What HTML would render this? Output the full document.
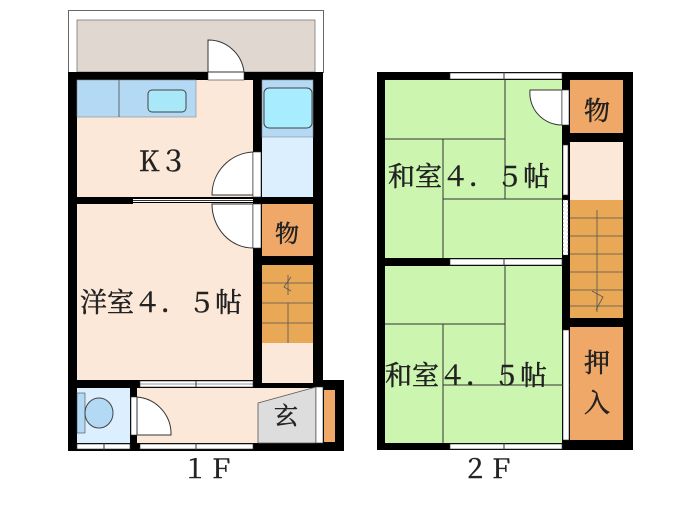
<!DOCTYPE html><html><head><meta charset="utf-8"><style>html,body{margin:0;padding:0;background:#fff}svg{display:block}text{font-family:"Noto Serif CJK SC","Noto Sans CJK JP",serif;fill:#222;stroke:#222;stroke-width:0.5}</style></head><body>
<svg width="700" height="525" viewBox="0 0 700 525" xmlns="http://www.w3.org/2000/svg">
<rect x="68.5" y="10.5" width="255" height="62" fill="#fff" stroke="#666"/>
<rect x="77" y="20" width="238" height="52" fill="#e0d8d0" stroke="#777" stroke-width="0.8"/>
<rect x="68" y="72" width="255" height="379" fill="#000"/>
<rect x="77" y="80" width="176" height="117" fill="#fce8d8"/>
<rect x="77" y="203" width="176" height="177" fill="#fce8d8"/>
<rect x="77" y="80" width="119" height="37" fill="#b3d9f5" stroke="#888" stroke-width="0.6"/>
<line x1="119" y1="80" x2="119" y2="117" stroke="#666"/>
<rect x="148" y="90" width="38" height="22" rx="4" fill="#a8e8f8" stroke="#444"/>
<rect x="262" y="80" width="51" height="117" fill="#dcefff"/>
<rect x="262" y="80" width="51" height="57" fill="#b3d9f5" stroke="#888" stroke-width="0.6"/>
<rect x="264" y="88" width="48" height="40" rx="5" fill="#a8ecff" stroke="#444"/>
<rect x="77" y="197" width="56" height="7" fill="#000"/>
<rect x="133" y="199" width="120" height="3" fill="#fff"/><line x1="133" y1="200.5" x2="253" y2="200.5" stroke="#333"/>
<path d="M253 152 A43 43 0 0 0 212 195 L253 195 Z" fill="#fff" stroke="#333"/>
<path d="M212 204 A41 44 0 0 0 253 248 L253 204 Z" fill="#fff" stroke="#333"/>
<rect x="253" y="152" width="8" height="45" fill="#fff" stroke="#333" stroke-width="0.6"/>
<rect x="253" y="204" width="8" height="44" fill="#fff" stroke="#333" stroke-width="0.6"/>
<rect x="262" y="204" width="51" height="52" fill="#f0a868"/>
<rect x="262" y="265" width="51" height="78" fill="#e8a855"/>
<g stroke="#555" stroke-width="0.8"><line x1="262" y1="283" x2="313" y2="283"/><line x1="262" y1="303" x2="313" y2="303"/><line x1="262" y1="323" x2="313" y2="323"/><line x1="288" y1="303" x2="288" y2="343"/><line x1="288" y1="275" x2="288" y2="295"/><polyline points="291,277 284,287 291,291" fill="none"/></g>
<rect x="262" y="343" width="51" height="40" fill="#fce8d8"/>
<rect x="253" y="388" width="70" height="55" fill="#fce8d8"/>
<rect x="140" y="381" width="113" height="6" fill="#fff" stroke="#333" stroke-width="0.6"/>
<line x1="140" y1="384" x2="253" y2="384" stroke="#333" stroke-width="0.6"/><line x1="196" y1="381" x2="196" y2="387" stroke="#333"/>
<rect x="137" y="388" width="176" height="55" fill="#fce8d8"/>
<rect x="77" y="388" width="53" height="55" fill="#dcefff"/>
<rect x="77" y="393" width="8" height="40" fill="#b3d9f5" stroke="#444" stroke-width="0.6"/>
<ellipse cx="99" cy="413" rx="14" ry="15" fill="#b3d9f5" stroke="#444"/>
<rect x="130" y="388" width="7" height="55" fill="#000"/>
<rect x="131" y="397" width="6" height="38" fill="#fff" stroke="#333" stroke-width="0.6"/>
<path d="M137 397 A37 37 0 0 1 171 435 L137 435 Z" fill="#fff" stroke="#333"/>
<rect x="313" y="380" width="31" height="71" fill="#000"/>
<polygon points="258,403 316,387 316,443 258,443" fill="#ddd" stroke="#555" stroke-width="0.8"/>
<rect x="316" y="387" width="7" height="56" fill="#fff" stroke="#333" stroke-width="0.6"/>
<rect x="324" y="390" width="11" height="52" fill="#f0a868"/>
<rect x="77" y="444" width="53" height="5" fill="#fff" stroke="#333" stroke-width="0.6"/>
<rect x="140" y="444" width="113" height="5" fill="#fff" stroke="#333" stroke-width="0.6"/>
<line x1="196" y1="443" x2="196" y2="450" stroke="#333"/><line x1="104" y1="443" x2="104" y2="450" stroke="#333"/>
<rect x="208" y="72" width="36" height="8" fill="#fff" stroke="#333" stroke-width="0.6"/>
<path d="M208 40 A36 36 0 0 1 244 72 L208 72 Z" fill="#fff" stroke="#333"/>
<text x="163" y="171" font-size="28" text-anchor="middle">K３</text>
<text x="287" y="242" font-size="24" text-anchor="middle">物</text>
<text x="161" y="312" font-size="27" text-anchor="middle">洋室４．５帖</text>
<text x="286" y="424" font-size="24" text-anchor="middle">玄</text>
<text x="208" y="478" font-size="26" text-anchor="middle">１Ｆ</text>

<rect x="377" y="72" width="256" height="378" fill="#000"/>
<rect x="385" y="80" width="177" height="178" fill="#ccf5b0"/>
<rect x="385" y="266" width="177" height="177" fill="#ccf5b0"/>
<g stroke="#333" stroke-width="1" fill="none">
<line x1="385" y1="139" x2="505" y2="139"/><line x1="505" y1="80" x2="505" y2="199"/><line x1="443" y1="139" x2="443" y2="258"/><line x1="443" y1="199" x2="562" y2="199"/>
<line x1="385" y1="324" x2="505" y2="324"/><line x1="505" y1="266" x2="505" y2="385"/><line x1="443" y1="324" x2="443" y2="443"/><line x1="443" y1="385" x2="570" y2="385"/>
</g>
<rect x="450" y="73" width="112" height="6" fill="#fff" stroke="#333" stroke-width="0.6"/>
<rect x="450" y="259" width="112" height="6" fill="#fff" stroke="#333" stroke-width="0.6"/>
<rect x="450" y="444" width="112" height="5" fill="#fff" stroke="#333" stroke-width="0.6"/>
<line x1="504" y1="72" x2="504" y2="80" stroke="#333"/><line x1="504" y1="258" x2="504" y2="266" stroke="#333"/><line x1="504" y1="443" x2="504" y2="450" stroke="#333"/>
<path d="M530 90 A32 32 0 0 0 562 125 L562 90 Z" fill="#fff" stroke="#333"/>
<rect x="562" y="90" width="7" height="35" fill="#fff" stroke="#333" stroke-width="0.6"/>
<rect x="570" y="80" width="53" height="53" fill="#f0a868"/>
<rect x="570" y="142" width="53" height="58" fill="#fce8d8"/>
<rect x="563" y="145" width="5" height="50" fill="#fff" stroke="#333" stroke-width="0.6"/>
<rect x="570" y="200" width="53" height="118" fill="#e8a855"/>
<rect x="563" y="200" width="5" height="55" fill="#fff" stroke="#555" stroke-width="0.6" stroke-dasharray="2,2"/>
<g stroke="#555" stroke-width="0.8" fill="none"><line x1="570" y1="218" x2="623" y2="218"/><line x1="570" y1="236" x2="623" y2="236"/><line x1="570" y1="254" x2="623" y2="254"/><line x1="570" y1="272" x2="623" y2="272"/><line x1="570" y1="290" x2="623" y2="290"/><line x1="570" y1="306" x2="623" y2="306"/><line x1="597" y1="210" x2="597" y2="312"/><polyline points="592,291 603,297 596,310"/></g>
<rect x="570" y="327" width="53" height="113" fill="#f0a868"/>
<rect x="563" y="330" width="6" height="110" fill="#fff" stroke="#333" stroke-width="0.6"/>
<text x="597" y="120" font-size="26" text-anchor="middle">物</text>
<text x="469" y="186" font-size="27" text-anchor="middle">和室４．５帖</text>
<text x="466" y="385" font-size="27" text-anchor="middle">和室４．５帖</text>
<text x="597" y="372" font-size="26" text-anchor="middle">押</text>
<text x="597" y="412" font-size="26" text-anchor="middle">入</text>
<text x="488" y="478" font-size="26" text-anchor="middle">２Ｆ</text>
</svg></body></html>
